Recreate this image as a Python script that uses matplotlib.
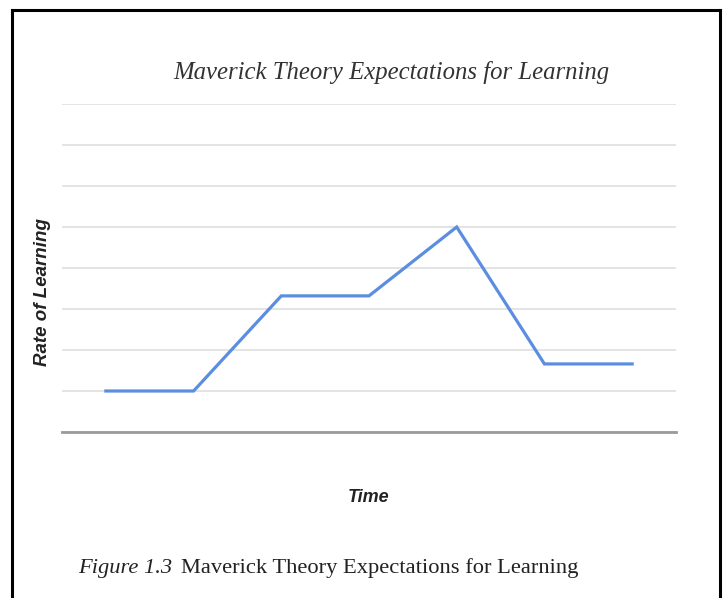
import matplotlib
matplotlib.use("Agg")
import matplotlib.pyplot as plt

# Data
time_points = [1, 2, 3, 4, 5, 6, 7]
rate_of_learning = [1.0, 1.0, 3.32, 3.32, 5.0, 1.66, 1.66]
y_ticks = [0, 1, 2, 3, 4, 5, 6, 7, 8]

W, H = 723, 598
fig = plt.figure(figsize=(W / 100, H / 100), dpi=100)
fig.patch.set_facecolor("white")

# Outer frame (top, left, right)
fig.add_artist(plt.Line2D([12 / W, 12 / W], [0, 1 - 10 / H], color="black", lw=2.2))
fig.add_artist(plt.Line2D([720 / W, 720 / W], [0, 1 - 10 / H], color="black", lw=2.2))
fig.add_artist(plt.Line2D([12 / W, 720 / W], [1 - 10 / H, 1 - 10 / H], color="black", lw=2.2))

# Axes: x from 62 to 676, y from 104 (top) to 432 (bottom)
left, right, top, bottom = 62, 676, 104, 432
ax = fig.add_axes([left / W, 1 - bottom / H, (right - left) / W, (bottom - top) / H])
xpos = list(range(len(time_points)))
ax.plot(xpos, rate_of_learning, color="#5b8ee0", lw=2.3, solid_joinstyle="miter", zorder=3)
ax.set_xlim(-0.5, len(time_points) - 0.5)
ax.set_ylim(y_ticks[0], y_ticks[-1])
ax.set_yticks(y_ticks)
ax.set_xticks([])
ax.tick_params(left=False, labelleft=False)
ax.grid(axis="y", color="#e4e4e4", lw=1.4)
for s in ["top", "right", "left"]:
    ax.spines[s].set_visible(False)
ax.spines["bottom"].set_color("#9a9a9a")
ax.spines["bottom"].set_linewidth(2.0)
ax.set_axisbelow(True)

# Title
fig.text(391 / W, 1 - 73 / H, "Maverick Theory Expectations for Learning",
         family="Liberation Serif", style="italic", fontsize=17.8,
         ha="center", va="center", color="#333333")

# Axis titles
fig.text(369 / W, 1 - 497 / H, "Time", family="Liberation Sans", style="italic",
         weight="bold", fontsize=13, ha="center", va="center", color="#222222")
fig.text(43 / W, 1 - 292 / H, "Rate of Learning", family="Liberation Sans", style="italic",
         weight="bold", fontsize=13.5, ha="center", va="center", rotation=90, color="#222222")

# Caption
t1 = fig.text(78 / W, 1 - 568 / H, "Figure 1.3", family="Liberation Serif", style="italic",
              fontsize=16.2, ha="left", va="center", color="#222222")
fig.canvas.draw()
bb = t1.get_window_extent()
fig.text((bb.x1 + 9) / W, 1 - 568 / H, "Maverick Theory Expectations for Learning",
         family="Liberation Serif", fontsize=16.2, ha="left", va="center", color="#222222")

fig.savefig("out.png", dpi=100)
